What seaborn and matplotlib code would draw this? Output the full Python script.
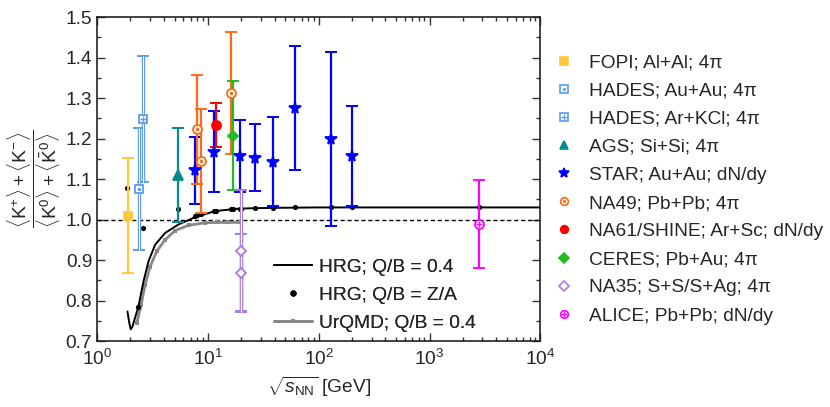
import matplotlib
matplotlib.use("Agg")
import matplotlib.pyplot as plt
import seaborn as sns
from matplotlib.lines import Line2D
from matplotlib.ticker import LogLocator, MultipleLocator, FormatStrFormatter, NullFormatter

# ---- data ----
fopi_x, fopi_y, fopi_err = [1.9], [1.01], [0.143]
hades_auau_x, hades_auau_y, hades_auau_err = [2.4], [1.075], [0.15]
hades_arkcl_x, hades_arkcl_y, hades_arkcl_err = [2.6], [1.248], [0.155]
ags_x, ags_y, ags_err = [5.35], [1.11], [0.115]
star_x = [7.6, 11.3, 19.4, 26.8, 38.7, 61.5, 129, 200]
star_y = [1.122, 1.168, 1.157, 1.153, 1.143, 1.276, 1.198, 1.157]
star_err = [0.083, 0.1, 0.09, 0.083, 0.11, 0.153, 0.215, 0.123]
na49_x, na49_y, na49_err = [7.95, 8.65, 16.0], [1.223, 1.145, 1.313], [0.135, 0.128, 0.15]
na61_x, na61_y, na61_err = [11.8], [1.233], [0.055]
ceres_x, ceres_y, ceres_err = [17.0], [1.207], [0.135]
na35_x, na35_y, na35_err = [19.7, 20.0], [0.922, 0.869], [0.15, 0.095]
alice_x, alice_y, alice_err = [2780], [0.989], [0.108]

hrg_x = [1.88, 1.95, 2.01, 2.08, 2.17, 2.36, 2.62, 2.91, 3.34, 4.11, 5.43, 7.68,
         11.6, 18.9, 25, 40, 100, 1000, 10000]
hrg_y = [0.773, 0.745, 0.729, 0.735, 0.752, 0.785, 0.847, 0.897, 0.938, 0.967, 0.988,
         1.006, 1.021, 1.027, 1.028, 1.029, 1.03, 1.03, 1.03]

za_x = [1.88, 2.36, 2.58, 5.35, 7.6, 7.95, 8.65, 11.3, 11.8, 16.0, 17.0, 19.4, 20.0,
        26.8, 38.7, 61.5, 129, 200, 2780]
za_y = [1.079, 0.785, 0.979, 1.025, 1.008, 1.011, 1.014, 1.021, 1.022, 1.026, 1.026,
        1.027, 1.027, 1.028, 1.029, 1.03, 1.03, 1.03, 1.03]

urqmd_x = [2.28, 2.5, 2.71, 3.01, 3.46, 4.11, 5.06, 6.69, 9.44, 12, 15, 19.6]
urqmd_y = [0.744, 0.79, 0.839, 0.884, 0.922, 0.95, 0.973, 0.986, 0.992, 0.993, 0.993, 0.993]

# ---- style ----
sns.set_theme(style="ticks")
plt.rcParams['font.family'] = ['Liberation Sans', 'DejaVu Sans']
plt.rcParams['mathtext.fontset'] = 'custom'
plt.rcParams['mathtext.rm'] = 'Liberation Sans'
plt.rcParams['mathtext.it'] = 'Liberation Sans:italic'
plt.rcParams['mathtext.bf'] = 'Liberation Sans:bold'

FS = 13.8
C_FOPI = '#FFC83D'
C_HADES = '#5B9BEB'
C_AGS = '#008C8C'
C_STAR = '#0000FF'
C_NA49 = '#FF6A13'
C_NA61 = '#FF0000'
C_CERES = '#22BB22'
C_NA35 = '#A87BDD'
C_ALICE = '#FF00FF'
C_URQMD = '#888888'

fig, ax = plt.subplots(figsize=(8.3, 4.07), dpi=100)
fig.subplots_adjust(left=0.117, right=0.651, top=0.958, bottom=0.162)

# reference line at 1
ax.axhline(1.0, color='black', ls=(0, (3, 2)), lw=1.0, zorder=1)

# models
sns.lineplot(x=urqmd_x, y=urqmd_y, color=C_URQMD, lw=2.0, marker='s', markersize=3,
             markeredgewidth=0, estimator=None, ax=ax, zorder=2)
sns.lineplot(x=hrg_x, y=hrg_y, color='black', lw=1.4, estimator=None, ax=ax, zorder=3)
sns.scatterplot(x=za_x, y=za_y, color='black', s=14, linewidth=0, ax=ax, zorder=4)

# experiments
exps = [
    dict(x=fopi_x, y=fopi_y, e=fopi_err, c=C_FOPI, m='s', fill=True, inner=None, hollow=False),
    dict(x=hades_auau_x, y=hades_auau_y, e=hades_auau_err, c=C_HADES, m='s', fill=False, inner='.', hollow=True),
    dict(x=hades_arkcl_x, y=hades_arkcl_y, e=hades_arkcl_err, c=C_HADES, m='s', fill=False, inner='+', hollow=True),
    dict(x=ags_x, y=ags_y, e=ags_err, c=C_AGS, m='^', fill=True, inner=None, hollow=False),
    dict(x=star_x, y=star_y, e=star_err, c=C_STAR, m='*', fill=True, inner=None, hollow=False),
    dict(x=na49_x, y=na49_y, e=na49_err, c=C_NA49, m='o', fill=False, inner='.', hollow=False),
    dict(x=na61_x, y=na61_y, e=na61_err, c=C_NA61, m='o', fill=True, inner=None, hollow=False),
    dict(x=ceres_x, y=ceres_y, e=ceres_err, c=C_CERES, m='D', fill=True, inner=None, hollow=False),
    dict(x=na35_x, y=na35_y, e=na35_err, c=C_NA35, m='D', fill=False, inner=None, hollow=True),
    dict(x=alice_x, y=alice_y, e=alice_err, c=C_ALICE, m='o', fill=False, inner='+', hollow=False),
]
labels = ['FOPI; Al+Al; 4π', 'HADES; Au+Au; 4π', 'HADES; Ar+KCl; 4π', 'AGS; Si+Si; 4π',
          'STAR; Au+Au; dN/dy', 'NA49; Pb+Pb; 4π', 'NA61/SHINE; Ar+Sc; dN/dy',
          'CERES; Pb+Au; 4π', 'NA35; S+S/S+Ag; 4π', 'ALICE; Pb+Pb; dN/dy']

sizes = {'*': 8.5, 's': 6, 'o': 6.5, '^': 7, 'D': 5.5}
handles = []
for d in exps:
    ms = sizes[d['m']]
    lw = 2.4 if d['hollow'] else 1.6
    ax.errorbar(d['x'], d['y'], yerr=d['e'], fmt='none', ecolor=d['c'], elinewidth=lw,
                capsize=4, capthick=1.4, zorder=5)
    if d['hollow']:
        lo = [yy - ee for yy, ee in zip(d['y'], d['e'])]
        hi = [yy + ee for yy, ee in zip(d['y'], d['e'])]
        ax.vlines(d['x'], lo, hi, colors='white', lw=0.8, zorder=5.5)
    mfc = d['c'] if d['fill'] else 'white'
    ax.plot(d['x'], d['y'], ls='none', marker=d['m'], ms=ms, mfc=mfc, mec=d['c'],
            mew=1.3, zorder=6)
    h = [Line2D([], [], ls='none', marker=d['m'], ms=ms * 0.85, mfc=mfc, mec=d['c'], mew=1.2)]
    if d['inner'] is not None:
        ims = 3 if d['inner'] == '.' else 5
        ax.plot(d['x'], d['y'], ls='none', marker=d['inner'], ms=ims, color=d['c'],
                mew=1.0, zorder=7)
        h.append(Line2D([], [], ls='none', marker=d['inner'], ms=ims * 0.85, color=d['c'], mew=0.9))
    handles.append(tuple(h))

# axes
ax.set_xscale('log')
ax.set_xlim(1, 1e4)
ax.set_ylim(0.7, 1.5)
ax.xaxis.set_major_locator(LogLocator(base=10, numticks=10))
ax.xaxis.set_minor_locator(LogLocator(base=10, subs=range(2, 10), numticks=20))
ax.xaxis.set_minor_formatter(NullFormatter())
ax.yaxis.set_major_locator(MultipleLocator(0.1))
ax.yaxis.set_minor_locator(MultipleLocator(0.05))
ax.yaxis.set_major_formatter(FormatStrFormatter('%.1f'))
ax.tick_params(which='both', direction='in', top=True, right=True, labelsize=FS,
               width=1.0, color='#333333')
ax.tick_params(which='major', length=6)
ax.tick_params(which='minor', length=3)
ax.tick_params(axis='x', which='major', pad=6)
for sp in ax.spines.values():
    sp.set_linewidth(1.2)
    sp.set_color('#222222')

ax.set_xlabel(r'$\sqrt{s_{\mathrm{NN}}}$ [GeV]', fontsize=FS)
ax.set_ylabel(r'$\dfrac{\langle\mathrm{K}^{+}\rangle + \langle\mathrm{K}^{-}\rangle}'
              r'{\langle\mathrm{K}^{0}\rangle + \langle\bar{\mathrm{K}}^{0}\rangle}$',
              fontsize=FS, labelpad=2)

# model legend inside
model_handles = [
    Line2D([], [], color='black', lw=1.4),
    Line2D([], [], ls='none', marker='o', ms=3.5, color='black'),
    Line2D([], [], color=C_URQMD, lw=2.0, marker='s', ms=3, mew=0),
]
leg1 = ax.legend(model_handles, ['HRG; Q/B = 0.4', 'HRG; Q/B = Z/A', 'UrQMD; Q/B = 0.4'],
                 loc='lower left', bbox_to_anchor=(0.36, -0.024), frameon=False, fontsize=FS,
                 handlelength=2.0, labelspacing=0.55, handletextpad=0.36)
ax.add_artist(leg1)

# experiment legend outside
fig.legend(handles, labels, loc='upper left', bbox_to_anchor=(0.647, 0.91), frameon=False,
           fontsize=FS, handlelength=1.0, labelspacing=0.56, handletextpad=0.8)

fig.savefig('out.png', dpi=100)
